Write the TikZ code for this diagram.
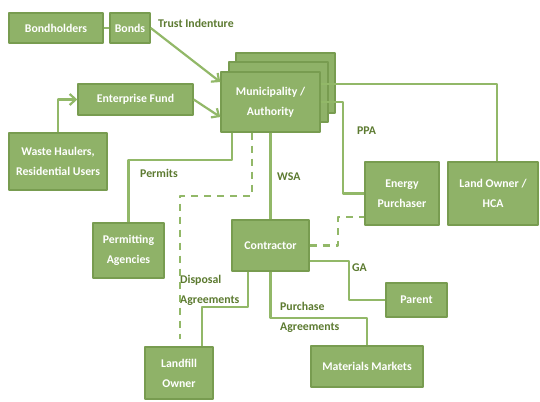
\documentclass[tikz,border=0pt]{standalone}
\usepackage{fontspec}
\setmainfont{Carlito}
\usetikzlibrary{arrows.meta}
\definecolor{boxfill}{RGB}{143,178,104}
\definecolor{boxedge}{RGB}{120,156,80}
\definecolor{linkgreen}{RGB}{146,184,104}
\definecolor{lblgreen}{RGB}{92,122,48}
\begin{document}
\begin{tikzpicture}[x=1pt,y=-1pt,>={Straight Barb[length=6pt,width=11pt]},line join=round,
	font=\fontsize{11.8}{20}\selectfont\bfseries,
	box/.style={draw=boxedge,line width=1.4pt,fill=boxfill,text=white,align=center,inner sep=0pt},
	link/.style={draw=linkgreen,line width=2.2pt},
	lbl/.style={text=lblgreen,anchor=west,align=left,inner sep=0pt}]
	\useasboundingbox (0,0) rectangle (540,401);
	% stacked sheets behind the municipality
	\draw[box] (236,53) rectangle (335,113);
	\draw[box] (229,62) rectangle (328,122);
	\foreach \n/\x/\y/\w/\h/\t in {
		BH/56/28/94/30/Bondholders,
		BD/130/28/40/30/Bonds,
		EF/135.5/99.5/115/31/Enterprise Fund,
		WH/58/161.5/98/57/{Waste Haulers,\\Residential Users},
		MU/270.5/102/99/60/{Municipality /\\Authority},
		EP/402/193.5/74/63/{Energy\\Purchaser},
		LO/493/193.5/90/63/{Land Owner /\\HCA},
		PA/128.5/250.5/71/55/{Permitting\\Agencies},
		CO/270.5/245.5/77/51/Contractor,
		PR/416.5/300/61/34/Parent,
		MM/367/366.5/112/41/Materials Markets,
		LF/179/373/68/52/{Landfill\\Owner}}
		\node[box,minimum width=\w pt,minimum height=\h pt] (\n) at (\x,\y) {\t};
	% labels
	\node[lbl] (TI) at (158,23) {Trust Indenture};
	\node[lbl] (PPA) at (357,131) {PPA};
	\node[lbl] (WSA) at (277,177) {WSA};
	\node[lbl] (PE) at (140,173) {Permits};
	\node[lbl] (GA) at (352,268) {GA};
	\node[lbl] (PU) at (280,317.5) {Purchase\\Agreements};
	\node[lbl] (DI) at (180,290.5) {Disposal\\Agreements};
	% connectors
	\draw[link] (BH) -- (BD);
	\draw[link,->] (BD.east) -- ([yshift=20pt]MU.west);
	\draw[link,->] (EF.east) -- ([yshift=-15pt]MU.west);
	\draw[link,->] (WH.north) |- (EF.west);
	\draw[link] ([yshift=18pt]MU.east) -| ([xshift=4pt]LO.north);
	\draw[link] (MU.east) -- ++(22,0) |- (EP.west);
	\draw[link] (MU.south) -- (CO.north);
	\draw[link] ([xshift=-38.5pt]MU.south) -- ++(0,27) -| (PA.north);
	\draw[link,dash pattern=on 7pt off 6pt] ([xshift=-18.5pt]MU.south) -- ++(0,63) -| ([xshift=1pt,yshift=7pt]LF.north);
	\draw[link,dash pattern=on 7pt off 6pt] (CO.east) -- ++(28,0) |- ([yshift=-23.5pt]EP.west);
	\draw[link] ([yshift=-15.5pt]CO.east) -- ++(39,0) |- (PR.west);
	\draw[link] (CO.south) -- ++(0,46) -| (MM.north);
	\draw[link] ([xshift=-22.5pt]CO.south) -- ++(0,35) -| ([xshift=23pt]LF.north);
\end{tikzpicture}
\end{document}
